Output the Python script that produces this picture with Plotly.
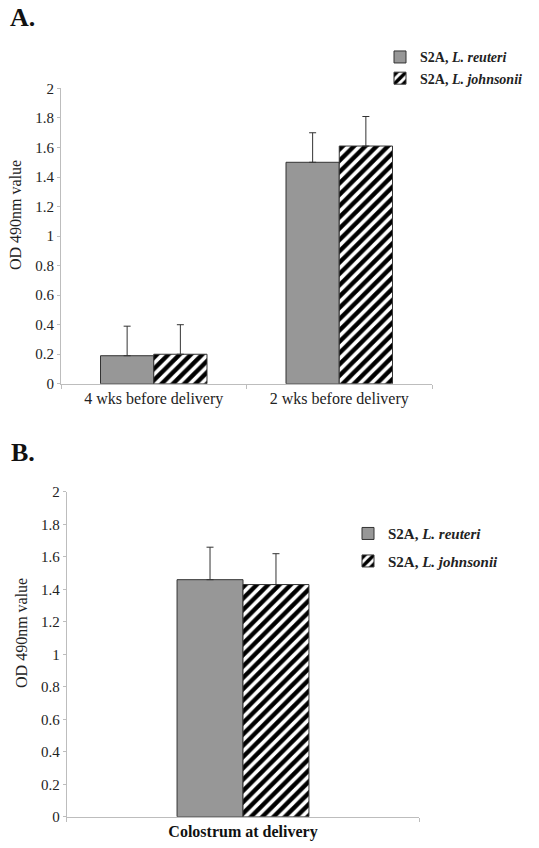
import plotly.graph_objects as go

# ---- data ----
cats_a = ["4 wks before delivery", "2 wks before delivery"]
reuteri_a = [0.19, 1.50]
reuteri_a_err = [0.20, 0.20]
johnsonii_a = [0.20, 1.61]
johnsonii_a_err = [0.20, 0.20]

cats_b = ["Colostrum at delivery"]
reuteri_b = [1.46]
reuteri_b_err = [0.20]
johnsonii_b = [1.43]
johnsonii_b_err = [0.19]

name_r = "<b>S2A, <i>L. reuteri</i></b>"
name_j = "<b>S2A, <i>L. johnsonii</i></b>"
y_ticks = [0, 0.2, 0.4, 0.6, 0.8, 1, 1.2, 1.4, 1.6, 1.8, 2]

W, H = 539, 848
FONT = "Liberation Serif"
GRAY = "#979797"
EDGE = "#333333"
AX = "#bdbdbd"

def px(v):
    return v / W

def py(v):
    return 1 - v / H

fig = go.Figure()

def add_pair(cats, r, re, j, je, xa, ya, wid, leg):
    fig.add_trace(go.Bar(
        x=cats, y=r, name=name_r, xaxis=xa, yaxis=ya, width=wid, offset=-wid,
        marker=dict(color=GRAY, line=dict(color=EDGE, width=1)),
        error_y=dict(type="data", array=re, arrayminus=[0] * len(re), symmetric=False,
                     color=EDGE, thickness=1, width=3.5),
        legend=leg, legendgroup=leg + "r"))
    fig.add_trace(go.Bar(
        x=cats, y=j, name=name_j, xaxis=xa, yaxis=ya, width=wid, offset=0,
        marker=dict(color="white", line=dict(color=EDGE, width=1),
                    pattern=dict(shape="/", fgcolor="#000000", bgcolor="white",
                                 size=8, solidity=0.55, fgopacity=1)),
        error_y=dict(type="data", array=je, arrayminus=[0] * len(je), symmetric=False,
                     color=EDGE, thickness=1, width=3.5),
        legend=leg, legendgroup=leg + "j"))

add_pair(cats_a, reuteri_a, reuteri_a_err, johnsonii_a, johnsonii_a_err, "x", "y", 0.287, "legend")
add_pair(cats_b, reuteri_b, reuteri_b_err, johnsonii_b, johnsonii_b_err, "x2", "y2", 0.187, "legend2")

tickfont = dict(family=FONT, size=15, color="#222")
common_x = dict(showline=True, linecolor=AX, linewidth=1, ticks="outside", tickcolor=AX,
                ticklen=4, tickson="boundaries", showgrid=False, zeroline=False,
                fixedrange=True)
common_y = dict(showline=True, linecolor=AX, linewidth=1, ticks="outside", tickcolor=AX,
                ticklen=3, range=[0, 2], tickvals=y_ticks, showgrid=False, zeroline=False,
                tickfont=tickfont)

fig.update_layout(
    width=W, height=H, margin=dict(l=0, r=0, t=0, b=0),
    paper_bgcolor="white", plot_bgcolor="white",
    font=dict(family=FONT, color="#222"),
    barmode="overlay",
    xaxis=dict(domain=[px(61), px(432)], anchor="y", range=[-0.5, 1.5],
               tickfont=dict(family=FONT, size=16, color="#222"), **common_x),
    yaxis=dict(domain=[py(383), py(82)], anchor="x", **common_y),
    xaxis2=dict(domain=[px(66.7), px(419.3)], anchor="y2", range=[-0.5, 0.5],
                tickmode="array", tickvals=cats_b,
                ticktext=["<b>" + c + "</b>" for c in cats_b],
                tickfont=dict(family=FONT, size=16, color="#111"), **common_x),
    yaxis2=dict(domain=[py(824.3), py(493.3)], anchor="x2", **common_y),
    legend=dict(x=px(380), y=py(34), xanchor="left", yanchor="top",
                font=dict(family=FONT, size=14, color="#222"), bgcolor="rgba(0,0,0,0)",
                traceorder="normal", tracegroupgap=0),
    legend2=dict(x=px(348), y=py(519), xanchor="left", yanchor="top",
                 font=dict(family=FONT, size=15, color="#222"), bgcolor="rgba(0,0,0,0)",
                 traceorder="grouped", tracegroupgap=5),
    showlegend=True,
    annotations=[
        dict(text="<b>A.</b>", x=px(22), y=py(10), xref="paper", yref="paper",
             xanchor="center", yanchor="middle",
             showarrow=False, font=dict(family=FONT, size=26, color="#111")),
        dict(text="<b>B.</b>", x=px(23), y=py(453), xref="paper", yref="paper",
             xanchor="center", yanchor="middle",
             showarrow=False, font=dict(family=FONT, size=26, color="#111")),
        dict(text="OD 490nm value", textangle=-90, x=px(15), y=py(211), xref="paper",
             yref="paper", xanchor="center", yanchor="middle", showarrow=False,
             font=dict(family=FONT, size=16, color="#222")),
        dict(text="OD 490nm value", textangle=-90, x=px(22), y=py(637), xref="paper",
             yref="paper", xanchor="center", yanchor="middle", showarrow=False,
             font=dict(family=FONT, size=16, color="#222")),
    ],
)

fig.write_html("out.html")
